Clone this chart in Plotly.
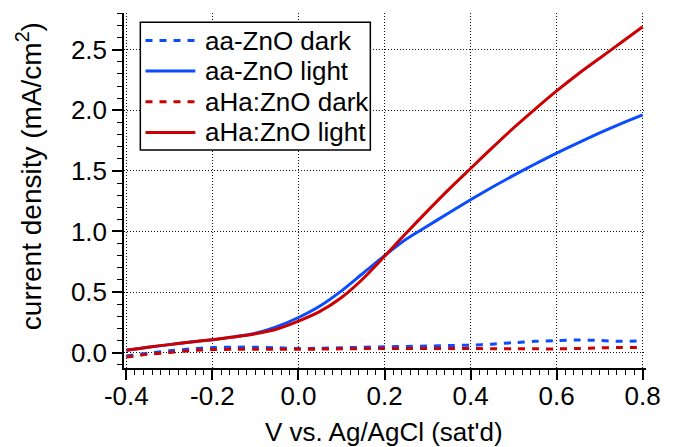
import plotly.graph_objects as go

# Photocurrent sweeps: current density vs. potential
voltage = [-0.40, -0.35, -0.30, -0.25, -0.20, -0.15, -0.10, -0.05, 0.00, 0.05,
           0.10, 0.15, 0.20, 0.25, 0.30, 0.35, 0.40, 0.45, 0.50, 0.55,
           0.60, 0.65, 0.70, 0.75, 0.80]

aa_dark = [-0.028, -0.005, 0.015, 0.030, 0.042, 0.045, 0.045, 0.040, 0.034, 0.036,
           0.040, 0.044, 0.048, 0.051, 0.054, 0.058, 0.062, 0.070, 0.082, 0.093,
           0.100, 0.105, 0.100, 0.093, 0.098]
aa_light = [0.020, 0.045, 0.066, 0.087, 0.107, 0.130, 0.160, 0.215, 0.290, 0.385,
            0.510, 0.655, 0.800, 0.935, 1.045, 1.155, 1.262, 1.365, 1.463, 1.557,
            1.647, 1.732, 1.813, 1.890, 1.962]
aha_dark = [-0.037, -0.014, 0.000, 0.017, 0.025, 0.027, 0.028, 0.028, 0.028, 0.029,
            0.031, 0.033, 0.034, 0.034, 0.034, 0.034, 0.034, 0.032, 0.031, 0.031,
            0.031, 0.034, 0.040, 0.042, 0.042]
aha_light = [0.020, 0.045, 0.066, 0.087, 0.107, 0.128, 0.155, 0.195, 0.260, 0.340,
             0.455, 0.610, 0.795, 0.985, 1.170, 1.350, 1.520, 1.690, 1.855, 2.010,
             2.160, 2.300, 2.430, 2.560, 2.690]

series_names = ["aa-ZnO dark", "aa-ZnO light", "aHa:ZnO dark", "aHa:ZnO light"]
series_values = [aa_dark, aa_light, aha_dark, aha_light]

x_ticks = [-0.4, -0.2, 0.0, 0.2, 0.4, 0.6, 0.8]
x_tick_labels = ["-0.4", "-0.2", "0.0", "0.2", "0.4", "0.6", "0.8"]
y_ticks = [0.0, 0.5, 1.0, 1.5, 2.0, 2.5]
y_tick_labels = ["0.0", "0.5", "1.0", "1.5", "2.0", "2.5"]

BLUE = "#0b4cff"
RED = "#cc0000"
colors = [BLUE, BLUE, RED, RED]
dashes = ["7px,7px", "solid", "7px,7px", "solid"]
widths = [3, 3, 3, 3]

FONT = "Liberation Sans, Arial, sans-serif"

W, H = 673, 447
L, R, T, B = 124, 15, 13, 79
PW, PH = W - L - R, H - T - B


def px_x(p):
    return (p - L) / PW


def px_y(p):
    return (H - B - p) / PH


fig = go.Figure()
for name, vals, c, d, w in zip(series_names, series_values, colors, dashes, widths):
    fig.add_trace(go.Scatter(
        x=voltage, y=vals, name=name, mode="lines",
        line=dict(color=c, dash=d, width=w, shape="spline", smoothing=0.8),
        showlegend=False,
    ))

# Boxed legend in the upper left of the plot area
shapes = [dict(type="rect", xref="paper", yref="paper",
               x0=px_x(140.7), x1=px_x(376), y0=px_y(150), y1=px_y(22.3),
               line=dict(color="black", width=1.5), fillcolor="white", layer="above")]
annotations = []
rows = [40.5, 71, 101.7, 132.4]
for name, c, d, w, ry in zip(series_names, colors, dashes, widths, rows):
    shapes.append(dict(type="line", xref="paper", yref="paper",
                       x0=px_x(146), x1=px_x(197), y0=px_y(ry), y1=px_y(ry),
                       line=dict(color=c, dash=d, width=w), layer="above"))
    annotations.append(dict(text=name, xref="paper", yref="paper",
                            x=px_x(205), y=px_y(ry), xanchor="left", yanchor="middle",
                            showarrow=False, font=dict(family=FONT, size=26, color="black")))

annotations.append(dict(text="current density (mA/cm<sup>2</sup>)", xref="paper", yref="paper",
                        x=px_x(27), y=px_y(176), textangle=-90, xanchor="center", yanchor="middle",
                        showarrow=False, font=dict(family=FONT, size=28, color="black")))
annotations.append(dict(text="V vs. Ag/AgCl (sat'd)", xref="paper", yref="paper",
                        x=px_x(390), y=px_y(431.5), xanchor="center", yanchor="middle",
                        showarrow=False, borderpad=0,
                        font=dict(family=FONT, size=26, color="black")))

axis_common = dict(
    showline=True, linecolor="black", linewidth=1.5, mirror=False,
    ticks="outside", ticklen=10, tickwidth=1.5, tickcolor="black",
    showgrid=True, gridcolor="#111111", gridwidth=1, griddash="1px,2px",
    zeroline=False, tickfont=dict(family=FONT, size=26, color="black"),
)

fig.update_layout(
    width=W, height=H,
    margin=dict(l=L, r=R, t=T, b=B, pad=0),
    paper_bgcolor="white", plot_bgcolor="white",
    showlegend=False,
    shapes=shapes, annotations=annotations,
    xaxis=dict(range=[-0.4055, 0.8077], tickmode="array", tickvals=x_ticks, ticktext=x_tick_labels,
               ticklabelstandoff=-6,
               minor=dict(tick0=-0.4, dtick=0.02, ticks="outside", ticklen=5, tickwidth=1, tickcolor="black"),
               **axis_common),
    yaxis=dict(range=[-0.127, 2.8035], tickmode="array", tickvals=y_ticks, ticktext=y_tick_labels,
               minor=dict(tick0=0, dtick=0.1, ticks="outside", ticklen=5, tickwidth=1, tickcolor="black"),
               **axis_common),
)

fig.write_html("out.html")
